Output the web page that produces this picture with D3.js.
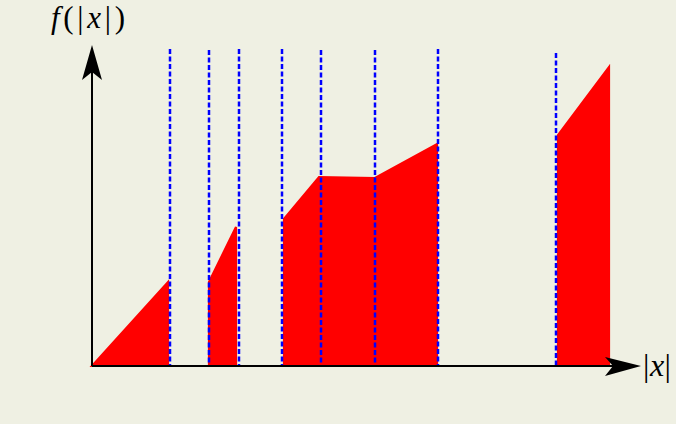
<!DOCTYPE html>
<html>
<head>
<meta charset="utf-8">
<script src="https://cdn.jsdelivr.net/npm/d3@7"></script>
<style>
  html, body { margin: 0; padding: 0; background: #eff0e3; }
  svg { display: block; }
</style>
</head>
<body>
<svg id="chart" width="676" height="424"></svg>
<script>
// Piecewise function f(|x|) outline (x, y) in axis units
const curveX = [0, 1.52, 1.52, 2.34, 2.34, 2.88, 2.88, 3.84, 3.84, 4.54, 5.66, 6.90, 6.90, 9.32, 9.32, 10.34, 10.34];
const curveY = [0, 1.68, 0,    0,    1.68, 2.78, 0,    0,    2.94, 3.78, 3.76, 4.44, 0,    0,    4.62, 5.98,  0];
// Vertical dashed boundaries
const boundaryX = [1.56, 2.34, 2.94, 3.80, 4.58, 5.66, 6.92, 9.28];
const boundaryTop = [6.34, 6.32, 6.34, 6.34, 6.32, 6.32, 6.34, 6.26];
// Axis extents
const axisXEnd = 10.98;
const axisYEnd = 6.42;

const svg = d3.select("#chart");
const x = d3.scaleLinear().domain([0, 11]).range([92, 642]);
const y = d3.scaleLinear().domain([0, 6.4]).range([366, 46]);

svg.append("rect").attr("width", 676).attr("height", 424).attr("fill", "#eff0e3");

const pts = curveX.map((d, i) => [d, curveY[i]]);
const line = d3.line().x(d => x(d[0])).y(d => y(d[1]));
svg.append("path")
  .attr("d", line(pts) + "Z")
  .attr("fill", "#ff0000")
  .attr("stroke", "#ff0000")
  .attr("stroke-width", 2.2)
  .attr("stroke-linejoin", "miter");

svg.selectAll("line.bound")
  .data(boundaryX)
  .join("line")
  .attr("class", "bound")
  .attr("x1", d => x(d)).attr("x2", d => x(d))
  .attr("y1", (d, i) => y(boundaryTop[i]))
  .attr("y2", y(0))
  .attr("stroke", "#0000ff")
  .attr("stroke-width", 2.5)
  .attr("stroke-dasharray", "5,2.5");

// axes
const x0 = x(0), y0 = y(0);
const xe = x(axisXEnd), ye = y(axisYEnd);
svg.append("line").attr("x1", x0).attr("y1", y0).attr("x2", xe - 20).attr("y2", y0)
  .attr("stroke", "#000").attr("stroke-width", 2);
svg.append("line").attr("x1", x0).attr("y1", y0).attr("x2", x0).attr("y2", ye + 20)
  .attr("stroke", "#000").attr("stroke-width", 2);
// stealth arrowheads
svg.append("path")
  .attr("d", `M${xe},${y0} L${xe - 36},${y0 - 9} L${xe - 28},${y0} L${xe - 36},${y0 + 10} Z`)
  .attr("fill", "#000");
svg.append("path")
  .attr("d", `M${x0},${ye} L${x0 - 10},${ye + 35} L${x0},${ye + 27} L${x0 + 10},${ye + 35} Z`)
  .attr("fill", "#000");

// labels
const font = "'Liberation Serif', 'Times New Roman', serif";
const yl = svg.append("text")
  .attr("x", 51).attr("y", 28)
  .attr("font-family", font).attr("font-size", 31)
  .attr("textLength", 74).attr("lengthAdjust", "spacing")
  .attr("fill", "#000");
[["f", true], ["(", false], ["|", false], ["x", true], ["|", false], [")", false]].forEach(([t, it]) => {
  yl.append("tspan").text(t).attr("font-style", it ? "italic" : "normal");
});
const xl = svg.append("text")
  .attr("x", 643).attr("y", 376)
  .attr("font-family", font).attr("font-size", 32)
  .attr("textLength", 28).attr("lengthAdjust", "spacing")
  .attr("fill", "#000");
[["|", false], ["x", true], ["|", false]].forEach(([t, it]) => {
  xl.append("tspan").text(t).attr("font-style", it ? "italic" : "normal");
});
</script>
</body>
</html>
